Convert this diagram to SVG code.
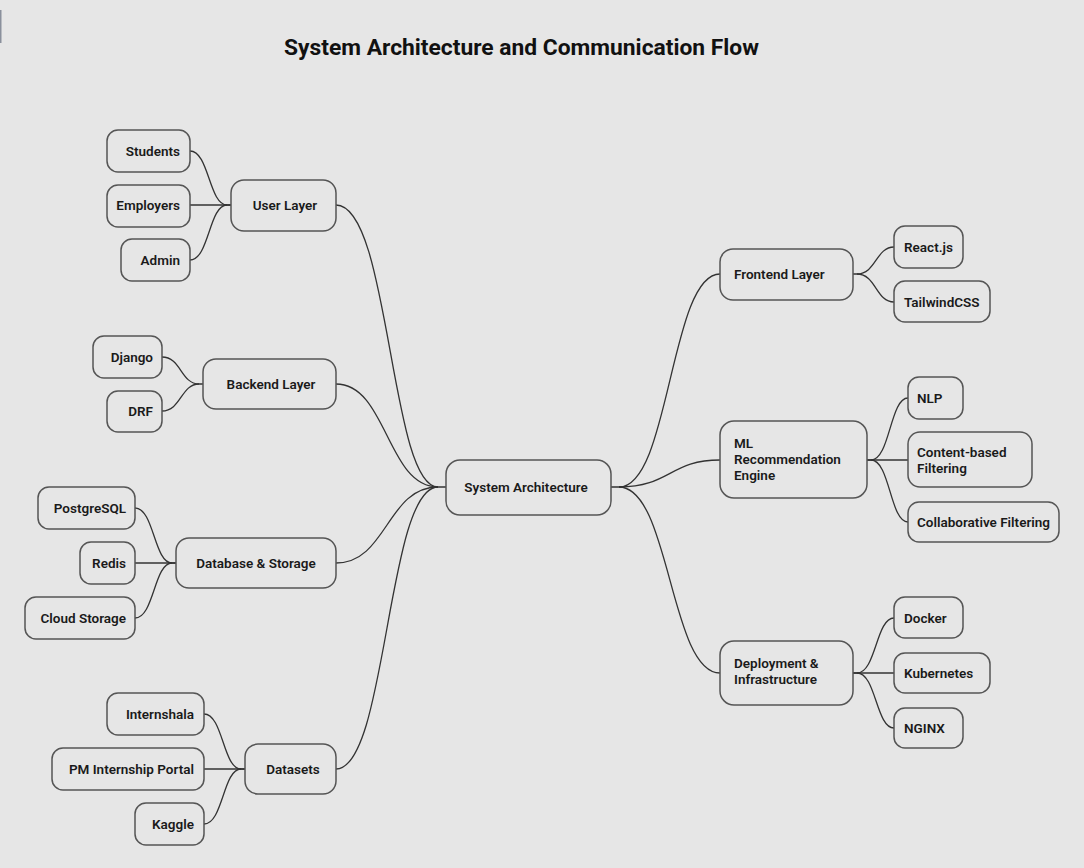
<svg xmlns="http://www.w3.org/2000/svg" width="1084" height="868" viewBox="0 0 1084 868">
<style>
.bg{fill:#e6e6e6}
.n rect{fill:#e6e6e6;stroke:#555;stroke-width:1.5}
.n text{font-family:Roboto,"Liberation Sans",sans-serif;font-size:13.5px;font-weight:600;fill:#1a1a1a}
.e{text-anchor:end}
.m{text-anchor:middle}
.conn path{fill:none;stroke:#333;stroke-width:1.3}
.title{font-family:Roboto,"Liberation Sans",sans-serif;font-size:22.8px;font-weight:700;fill:#111;text-anchor:middle}
</style>
<rect class="bg" x="0" y="0" width="1084" height="868"/>
<rect x="0" y="10" width="1.5" height="33" fill="#8a909c"/>
<text class="title" x="521.5" y="55">System Architecture and Communication Flow</text>

<g class="conn">
<!-- center to level 1 left -->
<path d="M438,487 C390,487 390,205 336,205 M438,487 L446,487"/>
<path d="M438,487 C387,487 387,384 336,384"/>
<path d="M438,487 C387,487 387,563 336,563"/>
<path d="M438,487 C387,487 387,769 336,769"/>
<!-- center to right -->
<path d="M611,487 L619,487 C670,487 670,274 720,274"/>
<path d="M619,487 C670,487 670,460 720,460"/>
<path d="M619,487 C670,487 670,673 720,673"/>
<!-- user layer leaves -->
<path d="M190,151 C209,151 209,205 227,205 L231,205"/>
<path d="M190,205 L231,205"/>
<path d="M190,260 C209,260 209,205 227,205"/>
<!-- backend leaves -->
<path d="M162,357 C181,357 181,384 199,384 L203,384"/>
<path d="M162,411 C181,411 181,384 199,384"/>
<!-- database leaves -->
<path d="M135,508 C154,508 154,563 172,563 L176,563"/>
<path d="M135,563 L176,563"/>
<path d="M135,618 C154,618 154,563 172,563"/>
<!-- datasets leaves -->
<path d="M204,714 C223,714 223,769 241,769 L245,769"/>
<path d="M204,769 L245,769"/>
<path d="M204,824 C223,824 223,769 241,769"/>
<!-- frontend leaves -->
<path d="M853,274 L857,274 C876,274 876,247 894,247"/>
<path d="M857,274 C876,274 876,302 894,302"/>
<!-- ML leaves -->
<path d="M867,460 L871,460 C890,460 890,398 908,398"/>
<path d="M867,460 L908,460"/>
<path d="M871,460 C890,460 890,522 908,522"/>
<!-- deployment leaves -->
<path d="M853,673 L857,673 C876,673 876,618 894,618"/>
<path d="M853,673 L894,673"/>
<path d="M857,673 C876,673 876,728 894,728"/>
</g>

<g id="center" class="n"><rect x="446" y="460" width="165" height="55" rx="14"/><text class="m" x="526" y="492">System Architecture</text></g>

<g id="user-layer" class="n"><rect x="231" y="180" width="105" height="51" rx="13"/><text class="m" x="285" y="210">User Layer</text></g>
<g id="students" class="n"><rect x="107" y="130" width="83" height="42" rx="11"/><text class="e" x="180" y="156">Students</text></g>
<g id="employers" class="n"><rect x="107" y="185" width="83" height="42" rx="11"/><text class="e" x="180" y="210">Employers</text></g>
<g id="admin" class="n"><rect x="121" y="239" width="69" height="42" rx="11"/><text class="e" x="180" y="265">Admin</text></g>

<g id="backend-layer" class="n"><rect x="203" y="359" width="133" height="50" rx="13"/><text class="m" x="271" y="389">Backend Layer</text></g>
<g id="django" class="n"><rect x="93" y="336" width="69" height="42" rx="11"/><text class="e" x="153" y="362">Django</text></g>
<g id="drf" class="n"><rect x="107" y="391" width="55" height="41" rx="11"/><text class="e" x="153" y="416">DRF</text></g>

<g id="database" class="n"><rect x="176" y="538" width="160" height="50" rx="13"/><text class="m" x="256" y="568">Database &amp; Storage</text></g>
<g id="postgresql" class="n"><rect x="38" y="487" width="97" height="42" rx="11"/><text class="e" x="126" y="513">PostgreSQL</text></g>
<g id="redis" class="n"><rect x="80" y="542" width="55" height="42" rx="11"/><text class="e" x="126" y="568">Redis</text></g>
<g id="cloud-storage" class="n"><rect x="25" y="597" width="110" height="42" rx="11"/><text class="e" x="126" y="623">Cloud Storage</text></g>

<g id="datasets" class="n"><rect x="245" y="744" width="91" height="50" rx="13"/><text class="m" x="293" y="774">Datasets</text></g>
<g id="internshala" class="n"><rect x="107" y="693" width="97" height="42" rx="11"/><text class="e" x="194" y="719">Internshala</text></g>
<g id="pm-portal" class="n"><rect x="52" y="748" width="152" height="42" rx="11"/><text class="e" x="194" y="774">PM Internship Portal</text></g>
<g id="kaggle" class="n"><rect x="135" y="803" width="69" height="42" rx="11"/><text class="e" x="194" y="829">Kaggle</text></g>

<g id="frontend-layer" class="n"><rect x="720" y="249" width="133" height="51" rx="13"/><text x="734" y="279">Frontend Layer</text></g>
<g id="react" class="n"><rect x="894" y="226" width="69" height="42" rx="11"/><text x="904" y="252">React.js</text></g>
<g id="tailwind" class="n"><rect x="894" y="281" width="96" height="41" rx="11"/><text x="904" y="307">TailwindCSS</text></g>

<g id="ml-engine" class="n"><rect x="720" y="421" width="147" height="77" rx="14"/><text x="734" y="448">ML</text><text x="734" y="464">Recommendation</text><text x="734" y="480">Engine</text></g>
<g id="nlp" class="n"><rect x="908" y="377" width="55" height="42" rx="11"/><text x="917" y="403">NLP</text></g>
<g id="content-based" class="n"><rect x="908" y="432" width="124" height="55" rx="12"/><text x="917" y="457">Content-based</text><text x="917" y="473">Filtering</text></g>
<g id="collaborative" class="n"><rect x="908" y="502" width="151" height="40" rx="11"/><text x="917" y="527">Collaborative Filtering</text></g>

<g id="deployment" class="n"><rect x="720" y="641" width="133" height="64" rx="14"/><text x="734" y="668">Deployment &amp;</text><text x="734" y="684">Infrastructure</text></g>
<g id="docker" class="n"><rect x="894" y="597" width="69" height="41" rx="11"/><text x="904" y="623">Docker</text></g>
<g id="kubernetes" class="n"><rect x="894" y="653" width="96" height="40" rx="11"/><text x="904" y="678">Kubernetes</text></g>
<g id="nginx" class="n"><rect x="894" y="708" width="69" height="40" rx="11"/><text x="904" y="733">NGINX</text></g>
</svg>
